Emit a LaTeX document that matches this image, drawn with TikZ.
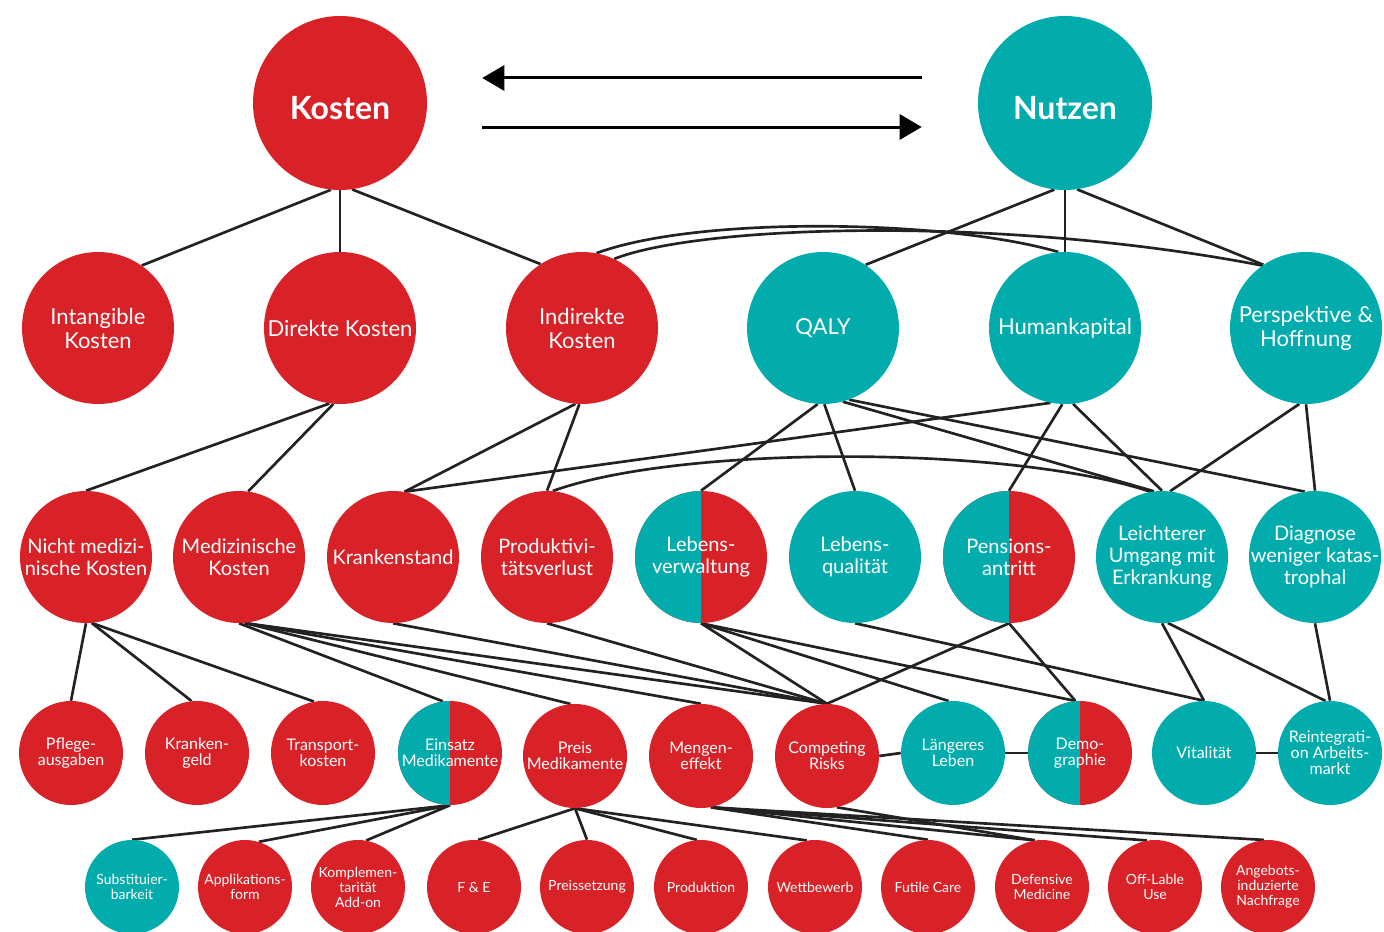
\documentclass[tikz,border=0pt]{standalone}
\usepackage{fontspec}
\setmainfont{Lato}
\usepackage{tikz}
\usetikzlibrary{arrows.meta}
\definecolor{kostenrot}{HTML}{D92128}
\definecolor{nutzentuerkis}{HTML}{03ACAC}
\definecolor{linienfarbe}{HTML}{222222}
\pgfdeclarelayer{hinten}
\pgfsetlayers{hinten,main}
\tikzstyle{rot} = [circle, fill=kostenrot, text=white, inner sep=0pt, align=center]
\tikzstyle{tuerkis} = [circle, fill=nutzentuerkis, text=white, inner sep=0pt, align=center]
\tikzstyle{halb} = [circle, fill=kostenrot, text=white, inner sep=0pt, align=center, path picture={\fill[nutzentuerkis] (path picture bounding box.south west) rectangle (path picture bounding box.north);}]
\tikzstyle{ebeneeins} = [minimum size=130.5pt, text height=24pt, text depth=0pt, font=\fontsize{24}{28}\selectfont\bfseries]
\tikzstyle{ebenezwei} = [minimum size=114pt, font=\fontsize{16.5}{18}\selectfont]
\tikzstyle{ebenedrei} = [minimum size=99pt, font=\fontsize{15}{16.5}\selectfont]
\tikzstyle{ebenevier} = [minimum size=78pt, font=\fontsize{12}{12}\selectfont]
\tikzstyle{ebenefuenf} = [minimum size=70.5pt, font=\fontsize{10.5}{11.25}\selectfont]
\tikzstyle{linie} = [draw=linienfarbe, line width=2pt]
\tikzstyle{pfeil} = [draw=black, line width=2.25pt, -{Triangle[length=16.5pt,width=18.75pt]}]

\begin{document}
\begin{tikzpicture}[x=0.75pt, y=-0.75pt]
    \useasboundingbox (0,0) rectangle (1384,931);

    % Ebene 1
    \node (kosten) [rot, ebeneeins] at (340,103) {Kosten};
    \node (nutzen) [tuerkis, ebeneeins] at (1065,103) {Nutzen};

    % Ebene 2
    \node (intangible) [rot, ebenezwei] at (98,328) {Intangible\\Kosten};
    \node (direkte) [rot, ebenezwei] at (340,328) {Direkte Kosten};
    \node (indirekte) [rot, ebenezwei] at (582,328) {Indirekte\\Kosten};
    \node (qaly) [tuerkis, ebenezwei] at (823,328) {QALY};
    \node (humankapital) [tuerkis, ebenezwei] at (1065,328) {Humankapital};
    \node (perspektive) [tuerkis, ebenezwei] at (1306,328) {Perspektive \&\\Hoffnung};

    % Ebene 3
    \node (nichtmed) [rot, ebenedrei] at (86,557) {Nicht medizi-\\nische Kosten};
    \node (medizinisch) [rot, ebenedrei] at (239,557) {Medizinische\\Kosten};
    \node (krankenstand) [rot, ebenedrei] at (393,557) {Krankenstand};
    \node (produktiv) [rot, ebenedrei] at (547,557) {Produktivi-\\tätsverlust};
    \node (lebensverw) [halb, ebenedrei] at (701,557) {Lebens-\\verwaltung};
    \node (lebensqual) [tuerkis, ebenedrei] at (855,557) {Lebens-\\qualität};
    \node (pension) [halb, ebenedrei] at (1009,557) {Pensions-\\antritt};
    \node (umgang) [tuerkis, ebenedrei] at (1162,557) {Leichterer\\Umgang mit\\Erkrankung};
    \node (diagnose) [tuerkis, ebenedrei, inner sep=-3pt] at (1315,557) {Diagnose\\weniger katas-\\trophal};

    % Ebene 4
    \node (pflege) [rot, ebenevier] at (71,753) {Pflege-\\ausgaben};
    \node (krankengeld) [rot, ebenevier] at (197,753) {Kranken-\\geld};
    \node (transport) [rot, ebenevier] at (323,753) {Transport-\\kosten};
    \node (einsatz) [halb, ebenevier] at (450,753) {Einsatz\\Medikamente};
    \node (preis) [rot, ebenevier] at (575,756) {Preis\\Medikamente};
    \node (mengen) [rot, ebenevier] at (701,756) {Mengen-\\effekt};
    \node (competing) [rot, ebenevier] at (827,756) {Competing\\Risks};
    \node (laenger) [tuerkis, ebenevier] at (953,753) {Längeres\\Leben};
    \node (demo) [halb, ebenevier] at (1080,753) {Demo-\\graphie};
    \node (vitalitaet) [tuerkis, ebenevier] at (1204,753) {Vitalität};
    \node (reintegration) [tuerkis, ebenevier] at (1330,753) {Reintegrati-\\on Arbeits-\\markt};

    % Ebene 5
    \node (substitut) [tuerkis, ebenefuenf] at (132,887) {Substituier-\\barkeit};
    \node (applikation) [rot, ebenefuenf] at (245,887) {Applikations-\\form};
    \node (komplement) [rot, ebenefuenf] at (358,887) {Komplemen-\\tarität\\Add-on};
    \node (fue) [rot, ebenefuenf] at (474,887) {F \& E};
    \node (preissetzung) [rot, ebenefuenf] at (587,887) {Preissetzung};
    \node (produktion) [rot, ebenefuenf] at (701,887) {Produktion};
    \node (wettbewerb) [rot, ebenefuenf] at (815,887) {Wettbewerb};
    \node (futile) [rot, ebenefuenf] at (928,887) {Futile Care};
    \node (defensive) [rot, ebenefuenf] at (1042,887) {Defensive\\Medicine};
    \node (offlabel) [rot, ebenefuenf] at (1155,887) {Off-Lable\\Use};
    \node (angebot) [rot, ebenefuenf] at (1268,887) {Angebots-\\induzierte\\Nachfrage};

    % Pfeile zwischen Kosten und Nutzen
    \draw [pfeil] ([xshift=-42pt,yshift=18.75pt]nutzen.west) -- ([xshift=41.25pt,yshift=18.75pt]kosten.east);
    \draw [pfeil] ([xshift=41.25pt,yshift=-18pt]kosten.east) -- ([xshift=-42pt,yshift=-18pt]nutzen.west);

    \begin{pgfonlayer}{hinten}
        % Ebene 1 -> 2
        \draw [linie] (kosten.264) -- (intangible.55);
        \draw [linie] (kosten.south) -- (direkte.north);
        \draw [linie] (kosten.278) -- (indirekte.123);
        \draw [linie] (nutzen.263) -- (qaly.56);
        \draw [linie] (nutzen.south) -- (humankapital.north);
        \draw [linie] (nutzen.278) -- (perspektive.124);
        \draw [linie] (indirekte.79) .. controls (700,215) and (950,220) .. (humankapital.95);
        \draw [linie] (indirekte.65) .. controls (700,225) and (1000,215) .. (perspektive.125);

        % Ebene 2 -> 3
        \draw [linie] (direkte.262) -- (nichtmed.north);
        \draw [linie] (direkte.265) -- (medizinisch.82);
        \draw [linie] (indirekte.265) -- (krankenstand.80);
        \draw [linie] (indirekte.268) -- (produktiv.north);
        \draw [linie] (qaly.266) -- (lebensverw.north);
        \draw [linie] (qaly.271) -- (lebensqual.north);
        \draw [linie] (qaly.285) -- (umgang.97);
        \draw [linie] (qaly.290) -- (diagnose.99);
        \draw [linie] (humankapital.259) -- (krankenstand.80);
        \draw [linie] (humankapital.268) -- (pension.north);
        \draw [linie] (humankapital.276) -- (umgang.north);
        \draw [linie] (perspektive.265) -- (umgang.83);
        \draw [linie] (perspektive.270) -- (diagnose.north);
        \draw [linie] (produktiv.85) .. controls (680,445) and (1010,445) .. (umgang.100);

        % Ebene 3 -> 4
        \draw [linie] (nichtmed.south) -- (pflege.north);
        \draw [linie] (nichtmed.275) -- (krankengeld.96);
        \draw [linie] (nichtmed.275) -- (transport.100);
        \draw [linie] (medizinisch.south) -- (einsatz.98);
        \draw [linie] (medizinisch.275) -- (preis.95);
        \draw [linie] (medizinisch.275) -- (mengen.north);
        \draw [linie] (medizinisch.275) -- (competing.north);
        \draw [linie] (krankenstand.south) -- (competing.north);
        \draw [linie] (produktiv.south) -- (competing.north);
        \draw [linie] (lebensverw.south) -- (competing.north);
        \draw [linie] (lebensverw.south) -- (laenger.95);
        \draw [linie] (lebensverw.south) -- (demo.95);
        \draw [linie] (lebensqual.south) -- (vitalitaet.north);
        \draw [linie] (pension.south) -- (competing.north);
        \draw [linie] (pension.south) -- (demo.95);
        \draw [linie] (umgang.south) -- (vitalitaet.north);
        \draw [linie] (umgang.275) -- (reintegration.95);
        \draw [linie] (diagnose.south) -- (reintegration.north);

        % Ebene 4 untereinander
        \draw [linie] (competing.east) -- (laenger.west);
        \draw [linie] (laenger.east) -- (demo.west);
        \draw [linie] (vitalitaet.east) -- (reintegration.west);

        % Ebene 4 -> 5
        \draw [linie] (einsatz.south) -- (substitut.north);
        \draw [linie] (einsatz.south) -- (applikation.73);
        \draw [linie] (einsatz.south) -- (komplement.80);
        \draw [linie] (preis.south) -- (fue.85);
        \draw [linie] (preis.south) -- (preissetzung.north);
        \draw [linie] (preis.south) -- (produktion.95);
        \draw [linie] (preis.south) -- (wettbewerb.100);
        \draw [linie] (mengen.281) -- (futile.north);
        \draw [linie] (mengen.281) -- (defensive.99);
        \draw [linie] (mengen.281) -- (offlabel.100);
        \draw [linie] (mengen.281) -- (angebot.95);
        \draw [linie] (competing.281) -- (defensive.99);
    \end{pgfonlayer}
\end{tikzpicture}
\end{document}
